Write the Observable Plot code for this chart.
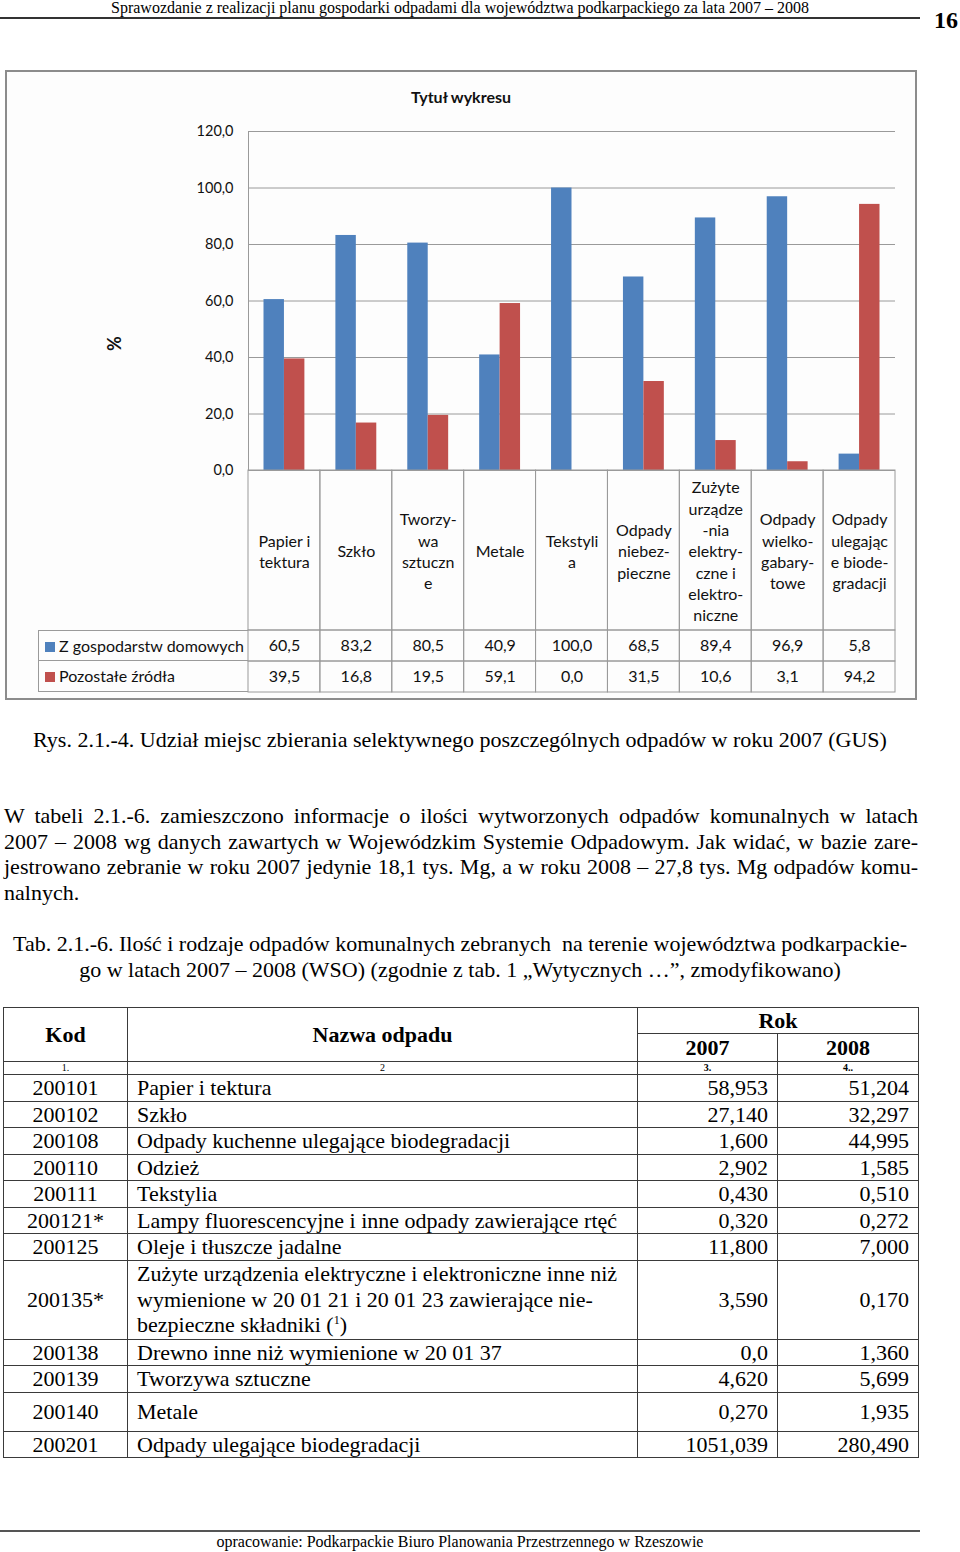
<!DOCTYPE html>
<html><head><meta charset="utf-8">
<script src="https://cdn.jsdelivr.net/npm/d3@7"></script>
<script src="https://cdn.jsdelivr.net/npm/@observablehq/plot@0.6"></script>
<style>
body{margin:0;background:#fff;}
#page{position:relative;width:960px;height:1552px;overflow:hidden;font-family:"Liberation Serif","Times New Roman",serif;color:#000;}
.abs{position:absolute;}
#hdr{left:0;top:0;width:920px;text-align:center;font-size:16px;line-height:16px;}
#pno{left:934px;top:8px;font-size:24px;font-weight:bold;line-height:24px;}
.rule{background:#333;height:1.5px;}
#frame{left:5px;top:70px;width:912px;height:630px;box-sizing:border-box;border:2px solid #8c8c8c;background:#fdfdfd;}
#ctitle{left:5px;top:88px;width:912px;text-align:center;font-family:Lato,sans-serif;font-weight:bold;font-size:16px;line-height:18px;color:#111;}
#legend{left:38px;top:630px;width:210px;font-family:Lato,sans-serif;font-size:16px;color:#111;}
#legend div{box-sizing:border-box;height:31px;line-height:30px;border:1px solid #9a9a9a;border-right:none;padding-left:6px;white-space:nowrap;}
#legend div + div{border-top:none;}
#legend span.sw{display:inline-block;width:10px;height:10px;margin-right:4px;vertical-align:0px;}
#caption{left:0;top:727px;width:920px;text-align:center;font-size:22px;line-height:26px;}
#para{left:4px;top:803px;width:914px;font-size:22px;line-height:25.7px;}
#para div{text-align:justify;text-align-last:justify;white-space:nowrap;}
#para div.last{text-align-last:left;}
#tabcap{left:0;top:931px;width:920px;text-align:center;font-size:22px;line-height:26px;white-space:pre;}
#tbl{left:3px;top:1007px;border-collapse:collapse;table-layout:fixed;width:915px;font-size:22px;}
#tbl td{border:1.5px solid #3a3a3a;padding:0 9px;line-height:25.5px;vertical-align:middle;}
#tbl th{border:1.5px solid #3a3a3a;padding:0;font-weight:bold;}
#tbl tr.num td{font-size:10px;line-height:10px;height:12px;text-align:center;padding:0;}
#tbl td.k{text-align:center;padding:0;}
#tbl td.v{text-align:right;}
#foot{left:0;top:1534px;width:920px;text-align:center;font-size:16px;line-height:16px;}
</style></head>
<body><div id="page">
<div id="hdr" class="abs">Sprawozdanie z realizacji planu gospodarki odpadami dla województwa podkarpackiego za lata 2007 – 2008</div>
<div id="pno" class="abs">16</div>
<div class="abs rule" style="left:0;top:17px;width:920px;"></div>
<div id="frame" class="abs"></div>
<div id="ctitle" class="abs">Tytuł wykresu</div>
<div id="chartA" class="abs" style="left:0;top:120px;"></div>
<div id="chartB" class="abs" style="left:247px;top:469px;"></div>
<div id="chartC" class="abs" style="left:247px;top:629px;"></div>
<div id="legend" class="abs"></div>
<div id="caption" class="abs">Rys. 2.1.-4. Udział miejsc zbierania selektywnego poszczególnych odpadów w roku 2007 (GUS)</div>
<div id="para" class="abs">
<div>W tabeli 2.1.-6. zamieszczono informacje o ilości wytworzonych odpadów komunalnych w latach</div>
<div>2007 – 2008 wg danych zawartych w Wojewódzkim Systemie Odpadowym. Jak widać, w bazie zare-</div>
<div>jestrowano zebranie w roku 2007 jedynie 18,1 tys. Mg, a w roku 2008 – 27,8 tys. Mg odpadów komu-</div>
<div class="last">nalnych.</div>
</div>
<div id="tabcap" class="abs">Tab. 2.1.-6. Ilość i rodzaje odpadów komunalnych zebranych  na terenie województwa podkarpackie-
go w latach 2007 – 2008 (WSO) (zgodnie z tab. 1 „Wytycznych …”, zmodyfikowano)</div>
<table id="tbl" class="abs"></table>
<div class="abs rule" style="left:0;top:1530px;width:920px;background:#555;"></div>
<div id="foot" class="abs">opracowanie: Podkarpackie Biuro Planowania Przestrzennego w Rzeszowie</div>
</div>
<script>
// ---- chart data ----
const categories = ["Papier i tektura","Szkło","Tworzywa sztuczne","Metale","Tekstylia","Odpady niebezpieczne","Zużyte urządzenia elektryczne i elektroniczne","Odpady wielkogabarytowe","Odpady ulegające biodegradacji"];
const categoryLabels = ["Papier i\ntektura","Szkło","Tworzy-\nwa\nsztuczn\ne","Metale","Tekstyli\na","Odpady\nniebez-\npieczne","Zużyte\nurządze\n-nia\nelektry-\nczne i\nelektro-\nniczne","Odpady\nwielko-\ngabary-\ntowe","Odpady\nulegając\ne biode-\ngradacji"];
const seriesNames = ["Z gospodarstw domowych","Pozostałe źródła"];
const household = [60.5, 83.2, 80.5, 40.9, 100.0, 68.5, 89.4, 96.9, 5.8];
const otherSources = [39.5, 16.8, 19.5, 59.1, 0.0, 31.5, 10.6, 3.1, 94.2];
const yTicks = [0, 20, 40, 60, 80, 100, 120];
const seriesColors = ["#4f81bd", "#c0504d"];

// ---- table data ----
const codes = ["200101","200102","200108","200110","200111","200121*","200125","200135*","200138","200139","200140","200201"];
const wasteNames = ["Papier i tektura","Szkło","Odpady kuchenne ulegające biodegradacji","Odzież","Tekstylia","Lampy fluorescencyjne i inne odpady zawierające rtęć","Oleje i tłuszcze jadalne","Zużyte urządzenia elektryczne i elektroniczne inne niż<br>wymienione w 20 01 21 i 20 01 23 zawierające nie-<br>bezpieczne składniki (<sup style=\"font-size:12px;line-height:0\">1</sup>)","Drewno inne niż wymienione w 20 01 37","Tworzywa sztuczne","Metale","Odpady ulegające biodegradacji"];
const y2007 = ["58,953","27,140","1,600","2,902","0,430","0,320","11,800","3,590","0,0","4,620","0,270","1051,039"];
const y2008 = ["51,204","32,297","44,995","1,585","0,510","0,272","7,000","0,170","1,360","5,699","1,935","280,490"];

const fmt = d => d3.format(".1f")(d).replace(".", ",");
const rows = categories.map((c, i) => ({category: c, label: categoryLabels[i], household: household[i], other: otherSources[i]}));
const longRows = seriesNames.flatMap((s, j) => categories.map((c, i) => ({category: c, series: s, value: (j === 0 ? household : otherSources)[i]})));
const grid = "#9a9a9a";
const ink = "#111";
const baseStyle = {fontFamily: "Lato, sans-serif", fontSize: "16px", color: ink, background: "transparent", overflow: "visible"};

const chartA = Plot.plot({
  width: 905, height: 352,
  marginLeft: 248, marginRight: 10, marginTop: 11, marginBottom: 2,
  style: baseStyle,
  x: {domain: categories, padding: 0, round: false, axis: null},
  y: {domain: [0, 120], axis: null},
  marks: [
    Plot.gridY(yTicks, {stroke: grid, strokeOpacity: 1}),
    Plot.frame({anchor: "left", stroke: grid}),
    Plot.axisY({ticks: yTicks, tickFormat: fmt, tickSize: 0, tickPadding: 15, fontSize: 14.5, label: null, fill: ink}),
    Plot.barY(rows, {x: "category", y: "household", fill: seriesColors[0], insetLeft: 15.5, insetRight: 35.95}),
    Plot.barY(rows, {x: "category", y: "other", fill: seriesColors[1], insetLeft: 35.95, insetRight: 15.5}),
    Plot.text(["%"], {text: d => d, frameAnchor: "left", dx: -133, dy: 50, rotate: -90, fontSize: 18, fontWeight: "bold", fill: ink})
  ]
});
document.getElementById("chartA").append(chartA);

const chartB = Plot.plot({
  width: 649, height: 162,
  marginLeft: 1, marginRight: 1, marginTop: 1, marginBottom: 1,
  style: baseStyle,
  x: {domain: categories, padding: 0, round: false, axis: null},
  marks: [
    Plot.cell(rows, {x: "category", fill: "none", stroke: grid, inset: 0}),
    Plot.text(rows, {x: "category", text: "label", frameAnchor: "middle", lineHeight: 1.33, fontSize: 16, fill: ink})
  ]
});
document.getElementById("chartB").append(chartB);

const chartC = Plot.plot({
  width: 649, height: 64,
  marginLeft: 1, marginRight: 1, marginTop: 1, marginBottom: 1,
  style: baseStyle,
  x: {domain: categories, padding: 0, round: false, axis: null},
  y: {domain: seriesNames, padding: 0, round: false, axis: null},
  marks: [
    Plot.cell(longRows, {x: "category", y: "series", fill: "none", stroke: grid, inset: 0}),
    Plot.text(longRows, {x: "category", y: "series", text: d => fmt(d.value), fontSize: 16, fill: ink})
  ]
});
document.getElementById("chartC").append(chartC);

document.getElementById("legend").innerHTML = seriesNames.map((s, j) =>
  `<div><span class="sw" style="background:${seriesColors[j]}"></span>${s}</div>`).join("");

// ---- table ----
let html = `<colgroup><col style="width:124px"><col style="width:510px"><col style="width:140px"><col style="width:141px"></colgroup>`;
html += `<tr style="height:26px"><th rowspan="2" style="font-size:22px">Kod</th><th rowspan="2" style="font-size:22px">Nazwa odpadu</th><th colspan="2" style="font-size:22px;line-height:24px">Rok</th></tr>`;
html += `<tr style="height:28px"><th style="font-size:22px;line-height:26px">2007</th><th style="font-size:22px;line-height:26px">2008</th></tr>`;
html += `<tr class="num"><td>1.</td><td>2</td><td style="font-weight:bold">3.</td><td style="font-weight:bold">4..</td></tr>`;
codes.forEach((c, i) => {
  const h = c === "200140" ? 38 : (c === "200135*" ? 78 : 25);
  html += `<tr class="r"><td class="k" style="height:${h}px">${c}</td><td>${wasteNames[i]}</td><td class="v">${y2007[i]}</td><td class="v">${y2008[i]}</td></tr>`;
});
document.getElementById("tbl").innerHTML = html;
</script>
</body></html>
